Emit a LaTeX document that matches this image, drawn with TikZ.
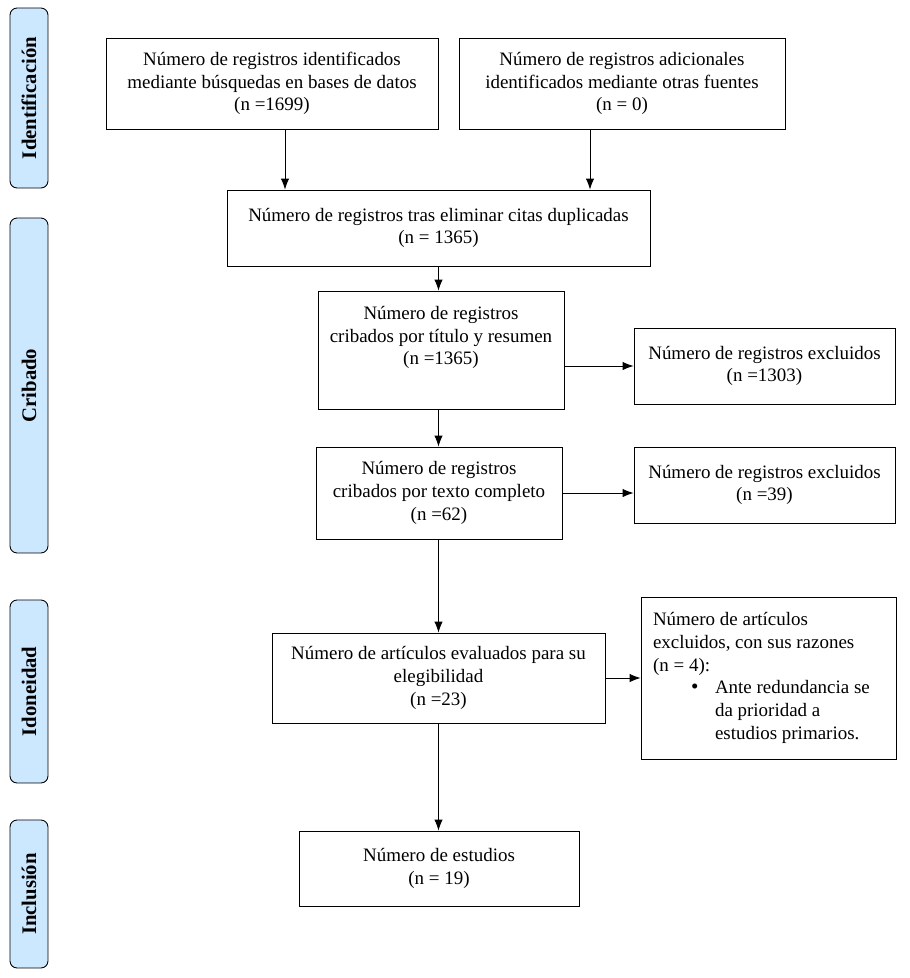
\documentclass[tikz,border=0pt]{standalone}
\usepackage{fontspec}
\setmainfont{Liberation Serif}
\usepackage{tikz}
\usetikzlibrary{arrows.meta, calc}
\definecolor{celeste}{RGB}{204,232,255}

\begin{document}
\begin{tikzpicture}[x=0.02cm, y=-0.02cm, line width=0.5pt,
  caja/.style={draw, align=center, inner sep=2pt, font=\fontsize{10.8}{12.9}\selectfont},
  fase/.style={draw, fill=celeste, rounded corners=4pt, rotate=90, minimum height=0.76cm,
    font=\bfseries\fontsize{11.8}{13}\selectfont},
  flecha/.style={-{Latex[length=2.2mm, width=1.7mm]}}]
 \useasboundingbox (0,0) rectangle (910,978);

  \node [fase, minimum width=3.6cm] (id) at (29,98) {Identificación};
  \node [fase, minimum width=6.7cm] (cr) at (29,385.5) {Cribado};
  \node [fase, minimum width=3.66cm] (ido) at (29,691.5) {Idoneidad};
  \node [fase, minimum width=2.96cm] (inc) at (29,894) {Inclusión};

  \node [caja, minimum width=6.64cm, minimum height=1.82cm] (A) at (272,83.5) {Número de registros identificados\\mediante búsquedas en bases de datos\\(n =1699)};
  \node [caja, minimum width=6.52cm, minimum height=1.82cm] (B) at (622,83.5) {Número de registros adicionales\\identificados mediante otras fuentes\\(n = 0)};
  \node [caja, minimum width=8.46cm, minimum height=1.52cm] (C) at (438.5,228) {Número de registros tras eliminar citas duplicadas\\(n = 1365)};
  \node [caja, minimum width=4.92cm, minimum height=2.36cm] (D) at (441,350) {Número de registros\\cribados por título y resumen\\(n =1365)\\[0.12cm]};
  \node [caja, minimum width=5.22cm, minimum height=1.52cm] (E) at (764.5,366) {Número de registros excluidos\\(n =1303)};
  \node [caja, minimum width=4.92cm, minimum height=1.84cm] (F) at (439,493) {Número de registros\\cribados por texto completo\\(n =62)};
  \node [caja, minimum width=5.22cm, minimum height=1.52cm] (G) at (764.5,485) {Número de registros excluidos\\(n =39)};
  \node [caja, minimum width=6.66cm, minimum height=1.8cm] (H) at (438.5,678) {Número de artículos evaluados para su\\elegibilidad\\(n =23)};
  \node [caja, align=flush left, text width=4.62cm, minimum height=3.24cm, inner sep=0.24cm] (I) at (768.5,678) {Número de artículos\\excluidos, con sus razones\\(n = 4):\\\makebox[1.24cm][l]{\hspace{0.76cm}{\large\textbullet}}Ante redundancia se\\\hspace*{1.24cm}da prioridad a\\\hspace*{1.24cm}estudios primarios.};
  \node [caja, minimum width=5.6cm, minimum height=1.5cm] (J) at (439,868.5) {Número de estudios\\(n = 19)};

  \coordinate (a1) at ([xshift=0.26cm]A.south);
  \coordinate (b1) at ([xshift=-0.64cm]B.south);
\draw [flecha] (a1) -- (a1 |- C.north);
\draw [flecha] (b1) -- (b1 |- C.north);
\draw [flecha] (C.south) -- (C.south |- D.north);
\draw [flecha] (D.south -| C.south) -- (C.south |- F.north);
\draw [flecha] (E.west -| D.east) -- (E.west);
\draw [flecha] (F.east) -- (F.east -| G.west);
\draw [flecha] (F.south -| C.south) -- (C.south |- H.north);
\draw [flecha] (H.east) -- (H.east -| I.west);
\draw [flecha] (H.south -| C.south) -- (C.south |- J.north);

  \end{tikzpicture}
\end{document}
